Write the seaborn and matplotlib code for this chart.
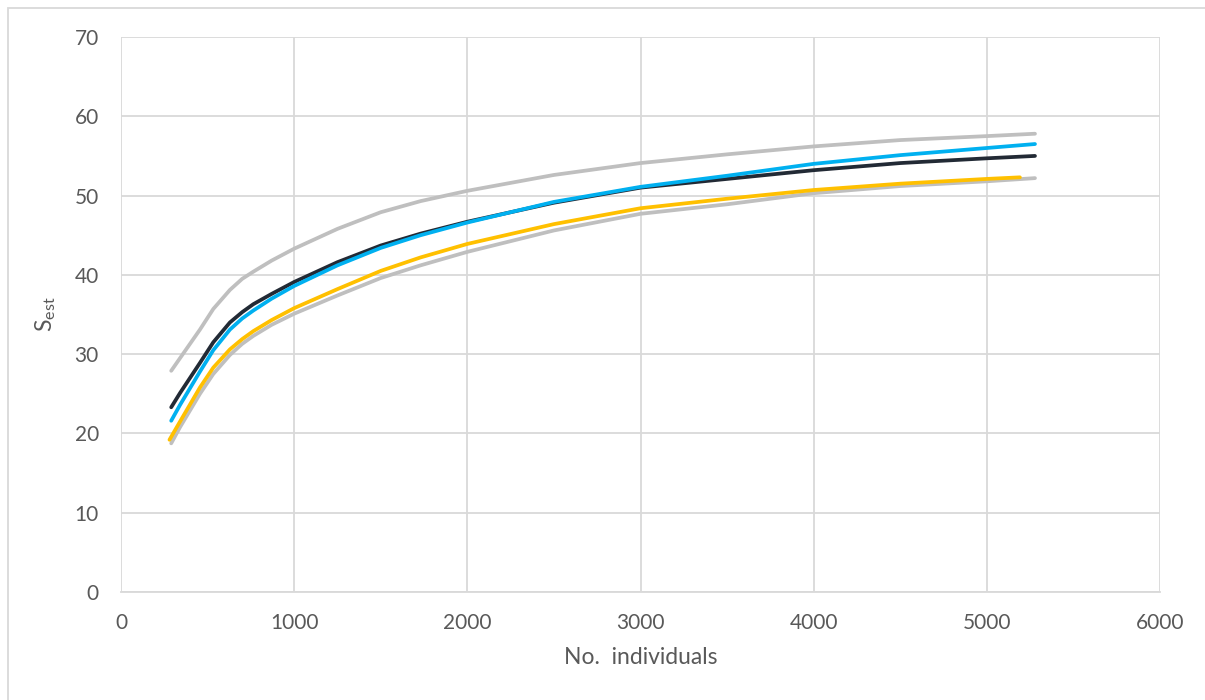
import matplotlib
matplotlib.use("Agg")
import matplotlib.pyplot as plt
import matplotlib.patches as mpatches
import seaborn as sns
import pandas as pd

# ---- data ----
x_common = [290, 341, 456, 533, 629, 700, 764, 870, 1000, 1250, 1500, 1730, 2000, 2500, 3000, 3500, 4000, 4500, 5000, 5278]
upper_gray = [27.9, 29.5, 33.1, 35.7, 38.1, 39.5, 40.4, 41.8, 43.3, 45.8, 47.9, 49.3, 50.6, 52.6, 54.1, 55.2, 56.2, 57.0, 57.5, 57.8]
black = [23.3, 25.1, 28.9, 31.5, 34.0, 35.3, 36.3, 37.6, 39.1, 41.6, 43.7, 45.2, 46.7, 49.1, 51.0, 52.1, 53.2, 54.1, 54.7, 55.0]
blue = [21.6, 23.6, 27.8, 30.5, 33.1, 34.5, 35.5, 37.0, 38.6, 41.2, 43.4, 45.0, 46.6, 49.2, 51.1, 52.5, 54.0, 55.1, 56.0, 56.5]
lower_gray = [18.75, 20.8, 25.0, 27.5, 29.9, 31.3, 32.3, 33.7, 35.1, 37.4, 39.6, 41.2, 42.9, 45.6, 47.7, 48.9, 50.3, 51.2, 51.8, 52.2]
x_yellow = [280, 341, 456, 533, 629, 700, 764, 870, 1000, 1250, 1500, 1730, 2000, 2500, 3000, 3500, 4000, 4500, 5000, 5191]
yellow = [19.2, 21.5, 25.8, 28.3, 30.6, 31.9, 32.9, 34.3, 35.8, 38.2, 40.5, 42.2, 43.9, 46.4, 48.4, 49.6, 50.7, 51.5, 52.1, 52.3]

x_ticks = [0, 1000, 2000, 3000, 4000, 5000, 6000]
y_ticks = [0, 10, 20, 30, 40, 50, 60, 70]

series = [
    ("Upper bound", x_common, upper_gray, "#BFBFBF"),
    ("Lower bound", x_common, lower_gray, "#BFBFBF"),
    ("Yellow", x_yellow, yellow, "#FFC000"),
    ("Black", x_common, black, "#222A35"),
    ("Blue", x_common, blue, "#00B0F0"),
]

sns.set_theme(style="white")
plt.rcParams["font.family"] = ["Lato", "DejaVu Sans"]

fig = plt.figure(figsize=(12.05, 7.0), dpi=100)
ax = fig.add_axes([121 / 1205, 1 - 592 / 700, (1160 - 121) / 1205, (592 - 37) / 700])

for name, xs, ys, col in series:
    df = pd.DataFrame({"x": xs, "y": ys})
    sns.lineplot(data=df, x="x", y="y", ax=ax, color=col, linewidth=2.7,
                 sort=False, estimator=None, solid_capstyle="round",
                 solid_joinstyle="round")

ax.set_xlim(0, 6000)
ax.set_ylim(0, 70)
ax.set_xticks(x_ticks)
ax.set_yticks(y_ticks)
ax.set_xticklabels([str(v) for v in x_ticks])
ax.set_yticklabels([str(v) for v in y_ticks])
ax.grid(True, color="#D9D9D9", linewidth=1.3)
ax.set_axisbelow(True)
for s in ["top", "right", "left"]:
    ax.spines[s].set_visible(False)
ax.spines["bottom"].set_color("#D9D9D9")
ax.spines["bottom"].set_linewidth(1.3)
ax.tick_params(axis="both", length=0, labelsize=15, labelcolor="#595959")
ax.tick_params(axis="x", pad=15)
ax.tick_params(axis="y", pad=16)

ax.set_xlabel("No.  individuals", fontsize=16.5, color="#595959", labelpad=10)
ax.set_ylabel(r"S$_{\mathregular{est}}$", fontsize=16.5, color="#595959", labelpad=12)

# chart area border
fig.patches.append(mpatches.Rectangle((8 / 1205, -0.1), 1.2, 1 - 8 / 700 + 0.1,
                                      transform=fig.transFigure, fill=False,
                                      edgecolor="#D9D9D9", linewidth=1.3))

fig.savefig("out.png", dpi=100, facecolor="white")
